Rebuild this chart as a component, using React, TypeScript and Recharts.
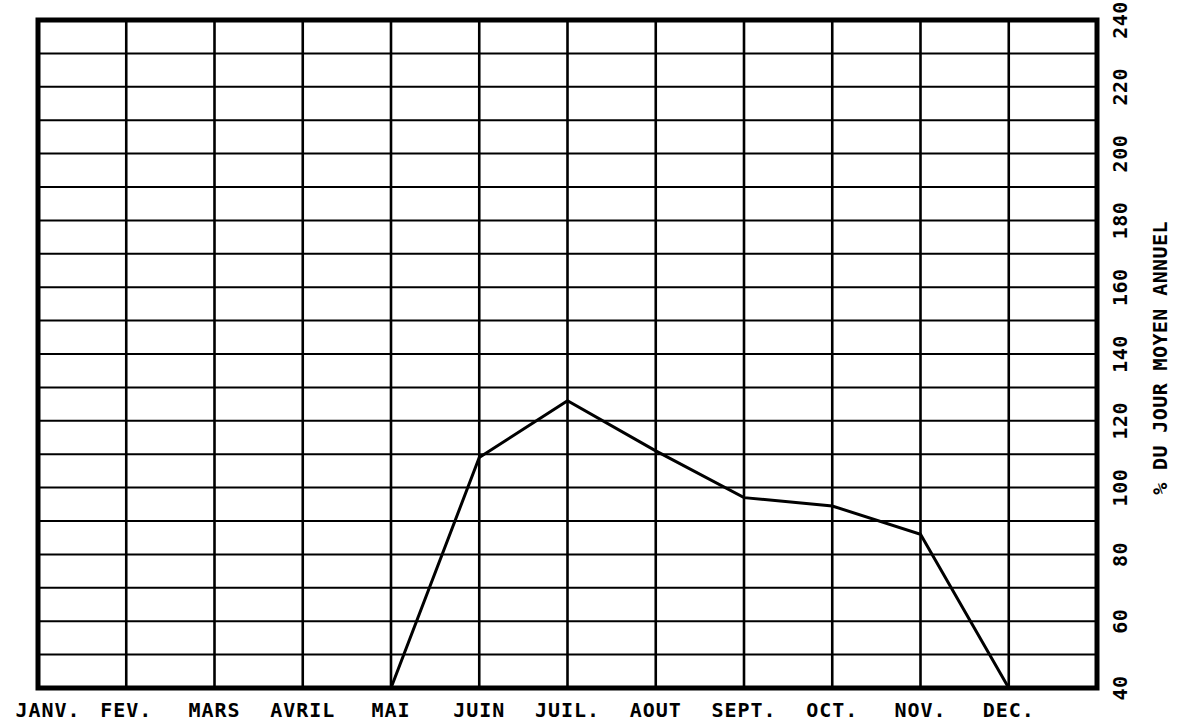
import React from 'react';
import { LineChart, Line, XAxis, YAxis, CartesianGrid, ReferenceArea } from 'recharts';

const months = ['JANV.', 'FEV.', 'MARS', 'AVRIL', 'MAI', 'JUIN', 'JUIL.', 'AOUT', 'SEPT.', 'OCT.', 'NOV.', 'DEC.'];
const values: (number | null)[] = [null, null, null, null, 40, 109, 126, 111, 97, 94.5, 86, 40];
const yTicks = [40, 60, 80, 100, 120, 140, 160, 180, 200, 220, 240];
const hGrid = [40, 50, 60, 70, 80, 90, 100, 110, 120, 130, 140, 150, 160, 170, 180, 190, 200, 210, 220, 230, 240];
const vGrid = [0, 1, 2, 3, 4, 5, 6, 7, 8, 9, 10, 11, 12];
const xTicks = [0, 1, 2, 3, 4, 5, 6, 7, 8, 9, 10, 11];

const data = months.map((m, i) => ({ idx: i, name: m, value: values[i] }));

const FONT = '"DejaVu Sans Mono", monospace';

const XTick = (props: any) => {
  const { x, y, payload } = props;
  // first label sits a bit right of its gridline so it stays on the page
  const nx = payload.value === 0 ? x + 10 : x;
  return (
    <text x={nx} y={y} textAnchor="middle" fontFamily={FONT} fontWeight="bold" fontSize={20} letterSpacing={1} fill="#000">
      {months[payload.value]}
    </text>
  );
};

const YTick = (props: any) => {
  const { x, y, payload } = props;
  return (
    <text
      x={x}
      y={y}
      transform={`rotate(-90, ${x}, ${y})`}
      textAnchor="middle"
      dominantBaseline="central"
      fontFamily={FONT}
      fontWeight="bold"
      fontSize={20}
      letterSpacing={0.5}
      fill="#000"
    >
      {payload.value}
    </text>
  );
};

const YTitle = (props: any) => {
  const vb = props.viewBox || {};
  const cx = vb.x + 63;
  const cy = vb.y + vb.height / 2 + 4;
  return (
    <text
      x={cx}
      y={cy}
      transform={`rotate(-90, ${cx}, ${cy})`}
      textAnchor="middle"
      dominantBaseline="central"
      fontFamily={FONT}
      fontWeight="bold"
      fontSize={20}
      letterSpacing={0.4}
      fill="#000"
    >
      % DU JOUR MOYEN ANNUEL
    </text>
  );
};

export default function App() {
  return (
    <div style={{ position: 'absolute', left: 0, top: 0, width: 1191, height: 725, background: '#fff' }}>
      <LineChart width={1191} height={725} data={data} margin={{ top: 20, left: 38, right: 0, bottom: 0 }}>
        <CartesianGrid horizontal={true} vertical={false} horizontalValues={hGrid} stroke="#000" strokeWidth={2} />
        <CartesianGrid horizontal={false} vertical={true} verticalValues={vGrid} stroke="#000" strokeWidth={2.6} />
        <XAxis
          dataKey="idx"
          type="number"
          domain={[0, 12]}
          ticks={xTicks}
          height={37}
          axisLine={false}
          tickLine={false}
          tickSize={0}
          tickMargin={29}
          tick={<XTick />}
          interval={0}
        />
        <YAxis
          orientation="right"
          type="number"
          domain={[40, 240]}
          ticks={yTicks}
          width={94}
          axisLine={false}
          tickLine={false}
          tickSize={0}
          tickMargin={23}
          tick={<YTick />}
          interval={0}
          label={<YTitle />}
        />
        <ReferenceArea x1={0} x2={12} y1={40} y2={240} fill="none" stroke="#000" strokeWidth={5} ifOverflow="visible" />
        <Line
          type="linear"
          dataKey="value"
          stroke="#000"
          strokeWidth={3}
          dot={false}
          connectNulls={false}
          isAnimationActive={false}
        />
      </LineChart>
    </div>
  );
}
